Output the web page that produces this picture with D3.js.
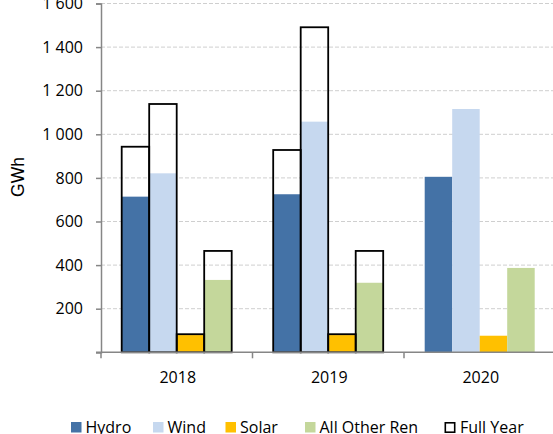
<!DOCTYPE html>
<html>
<head>
<meta charset="utf-8">
<script src="https://cdn.jsdelivr.net/npm/d3@7"></script>
<style>
  html, body { margin: 0; padding: 0; background: #fff; overflow: hidden; }
  svg { display: block; }
</style>
</head>
<body>
<svg id="chart" width="553" height="434"></svg>
<script>
const years = ["2018", "2019", "2020"];
const series = ["Hydro", "Wind", "Solar", "All Other Ren"];
const colors = ["#4472A6", "#C6D8EF", "#FFC000", "#C4D79B"];
// year-to-date values (GWh)
const hydro = [714, 725, 805];
const wind = [821, 1058, 1116];
const solar = [79, 79, 76];
const otherRen = [332, 319, 387];
// full year values (GWh); 2020 has none
const fullHydro = [943, 928, null];
const fullWind = [1139, 1491, null];
const fullSolar = [83, 83, null];
const fullOther = [465, 465, null];
const yTicks = [200, 400, 600, 800, 1000, 1200, 1400, 1600];
const yLabel = "GWh";
const fullLabel = "Full Year";

const partial = [hydro, wind, solar, otherRen];
const full = [fullHydro, fullWind, fullSolar, fullOther];

const svg = d3.select("#chart");
const FONT = "'Open Sans', sans-serif";

const x = d3.scaleBand().domain(years).range([101, 555.5]).padding(0);
const xs = d3.scaleBand().domain(series).range([20.7, 130.7]).padding(0);
const y = d3.scaleLinear().domain([0, 1600]).range([352.3, 3.5]);

// gridlines
svg.append("g").selectAll("line").data(yTicks).join("line")
  .attr("x1", 101).attr("x2", 553)
  .attr("y1", d => y(d)).attr("y2", d => y(d))
  .attr("stroke", "#cfcfcf").attr("stroke-width", 1)
  .attr("stroke-dasharray", "4,2");

// partial bars
const rows = [];
years.forEach((yr, i) => series.forEach((s, j) => {
  rows.push({ yr, s, j, v: partial[j][i], f: full[j][i] });
}));

svg.append("g").selectAll("rect").data(rows).join("rect")
  .attr("x", d => x(d.yr) + xs(d.s))
  .attr("width", xs.bandwidth())
  .attr("y", d => y(d.v))
  .attr("height", d => y(0) - y(d.v))
  .attr("fill", d => colors[d.j]);

// full-year outlines
svg.append("g").selectAll("rect").data(rows.filter(d => d.f != null)).join("rect")
  .attr("x", d => x(d.yr) + xs(d.s))
  .attr("width", xs.bandwidth())
  .attr("y", d => y(d.f))
  .attr("height", d => y(0) - y(d.f))
  .attr("fill", "none")
  .attr("stroke", "#000").attr("stroke-width", 1.8);

// y axis
const yAxis = d3.axisLeft(y).tickValues([0].concat(yTicks)).tickSize(5)
  .tickFormat(d => d === 0 ? "" : (d >= 1000 ? Math.floor(d / 1000) + " " + String(d % 1000).padStart(3, "0") : String(d)));
const gy = svg.append("g").attr("transform", "translate(101,0)").call(yAxis);
gy.select(".domain").attr("stroke", "#868686").attr("stroke-width", 1.5);
gy.selectAll(".tick line").attr("stroke", "#868686").attr("stroke-width", 1.5);
gy.selectAll(".tick text").attr("x", -18).attr("font-family", FONT)
  .attr("font-size", 16).attr("fill", "#000");

// x axis
const gx = svg.append("g").attr("transform", `translate(0,${y(0)})`);
gx.append("line").attr("x1", 96).attr("x2", 555.5).attr("y1", 0).attr("y2", 0)
  .attr("stroke", "#868686").attr("stroke-width", 1.5);
const bounds = [101].concat(years.map(d => x(d) + x.bandwidth()));
gx.selectAll("line.tk").data(bounds).join("line").attr("class", "tk")
  .attr("x1", d => d).attr("x2", d => d).attr("y1", 0).attr("y2", 6)
  .attr("stroke", "#868686").attr("stroke-width", 1.5);
gx.selectAll("text").data(years).join("text")
  .attr("x", d => x(d) + x.bandwidth() / 2 + 1)
  .attr("y", 31)
  .attr("text-anchor", "middle")
  .attr("font-family", FONT).attr("font-size", 16).attr("fill", "#000")
  .text(d => d);

// y label
svg.append("text")
  .attr("transform", "translate(23.5,177) rotate(-90)")
  .attr("text-anchor", "middle")
  .attr("font-family", "'Liberation Sans', Arial, sans-serif")
  .attr("font-size", 17.5).attr("fill", "#000")
  .text(yLabel);

// legend
const legendItems = series.map((s, j) => ({ label: s, color: colors[j], outline: false }))
  .concat([{ label: fullLabel, color: "#fff", outline: true }]);
const legendX = [71, 153, 225.5, 305, 444.5];
const lg = svg.append("g");
legendItems.forEach((d, i) => {
  const g = lg.append("g").attr("transform", `translate(${legendX[i]},0)`);
  g.append("rect").attr("x", d.outline ? 0.8 : 0).attr("y", d.outline ? 422.8 : 422)
    .attr("width", d.outline ? 9.4 : 10.5).attr("height", d.outline ? 9.4 : 10.5)
    .attr("fill", d.color)
    .attr("stroke", d.outline ? "#000" : "none").attr("stroke-width", 1.6);
  g.append("text").attr("x", d.outline ? 15.5 : 14.5).attr("y", 432.8)
    .attr("font-family", FONT).attr("font-size", 16).attr("fill", "#000")
    .text(d.label);
});
</script>
</body>
</html>
